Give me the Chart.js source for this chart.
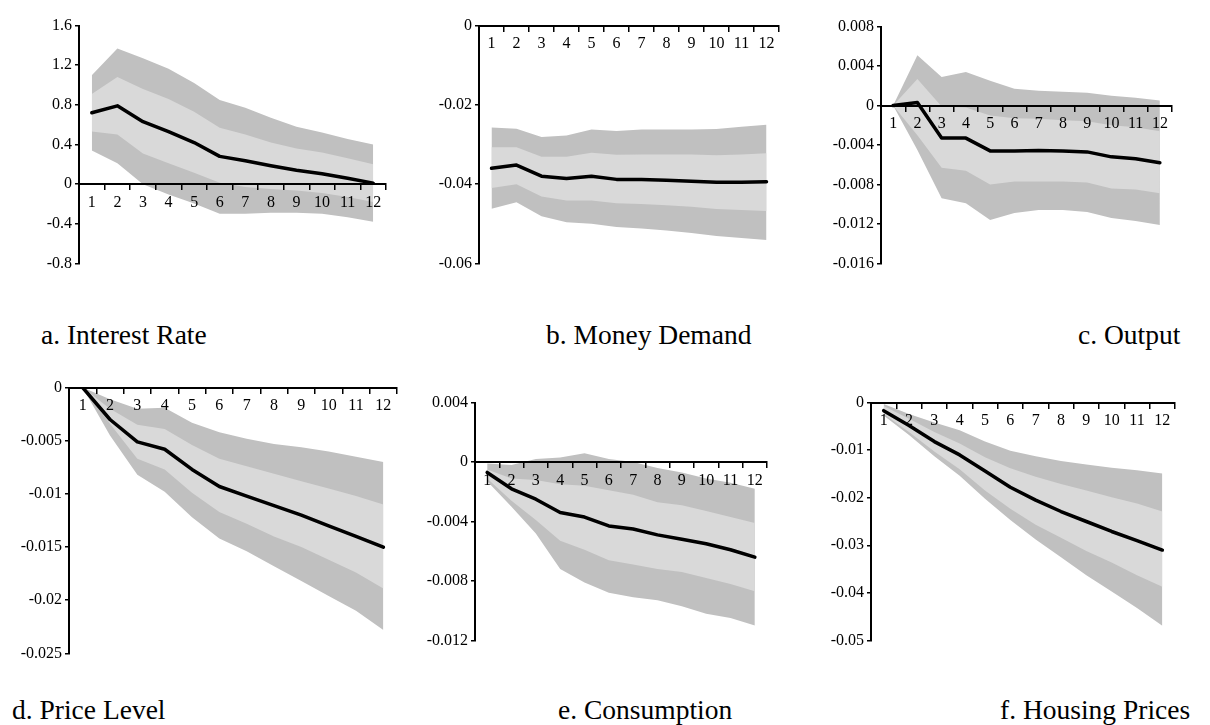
<!DOCTYPE html>
<html>
<head>
<meta charset="utf-8">
<title>Impulse responses</title>
<script src="https://cdn.jsdelivr.net/npm/chart.js@4.4.1/dist/chart.umd.min.js"></script>
<style>
  body {
    margin: 0;
    background: #fff;
    width: 1210px;
    height: 725px;
    position: relative;
    overflow: hidden;
  }
  canvas {
    position: absolute;
  }
  .caption {
    position: absolute;
    font-family: "Liberation Serif", "Times New Roman", serif;
    font-size: 27.5px;
    line-height: 1;
    white-space: nowrap;
    color: #000;
  }
</style>
</head>
<body>
<div class="caption" style="left:41px; top:321px">a. Interest Rate</div>
<div class="caption" style="left:546px; top:321px">b. Money Demand</div>
<div class="caption" style="left:1078px; top:321px">c. Output</div>
<div class="caption" style="left:12px; top:696px">d. Price Level</div>
<div class="caption" style="left:558px; top:696px">e. Consumption</div>
<div class="caption" style="left:1000px; top:696px">f. Housing Prices</div>

<script>
// Horizon (periods after the shock)
const periods = ["1", "2", "3", "4", "5", "6", "7", "8", "9", "10", "11", "12"];

// a. Interest Rate
const rateTicks = [-0.8, -0.4, 0, 0.4, 0.8, 1.2, 1.6];
const rateMean = [0.72, 0.79, 0.63, 0.53, 0.42, 0.28, 0.235, 0.185, 0.14, 0.105, 0.06, 0.01];
const rateUp2 = [1.10, 1.37, 1.27, 1.165, 1.02, 0.85, 0.77, 0.67, 0.58, 0.52, 0.455, 0.40];
const rateUp1 = [0.91, 1.08, 0.96, 0.86, 0.73, 0.57, 0.50, 0.42, 0.36, 0.32, 0.26, 0.20];
const rateLo1 = [0.53, 0.50, 0.31, 0.21, 0.115, 0.015, -0.03, -0.05, -0.065, -0.09, -0.13, -0.18];
const rateLo2 = [0.34, 0.21, 0.0, -0.105, -0.195, -0.30, -0.30, -0.29, -0.29, -0.30, -0.335, -0.38];

// b. Money Demand
const moneyTicks = [-0.06, -0.04, -0.02, 0];
const moneyMean = [-0.0360, -0.0352, -0.0380, -0.0386, -0.0380, -0.0388, -0.0388, -0.0390, -0.0393, -0.0395, -0.0395, -0.0394];
const moneyUp2 = [-0.0257, -0.0260, -0.0281, -0.0277, -0.0262, -0.0266, -0.0262, -0.0262, -0.0262, -0.0261, -0.0255, -0.0250];
const moneyUp1 = [-0.0307, -0.0307, -0.0331, -0.0331, -0.0321, -0.0326, -0.0325, -0.0325, -0.0325, -0.0327, -0.0325, -0.0322];
const moneyLo1 = [-0.0410, -0.0400, -0.0431, -0.0441, -0.0441, -0.0448, -0.0450, -0.0453, -0.0457, -0.0463, -0.0465, -0.0468];
const moneyLo2 = [-0.0462, -0.0446, -0.0481, -0.0496, -0.0500, -0.0508, -0.0512, -0.0517, -0.0523, -0.0531, -0.0536, -0.0541];

// c. Output
const outputTicks = [-0.016, -0.012, -0.008, -0.004, 0, 0.004, 0.008];
const outputMean = [0.0000, 0.0003, -0.0033, -0.0033, -0.0046, -0.0046, -0.00455, -0.0046, -0.0047, -0.0052, -0.0054, -0.0058];
const outputUp2 = [0.0000, 0.0051, 0.0029, 0.0034, 0.0025, 0.0017, 0.0015, 0.0014, 0.0013, 0.0010, 0.0008, 0.0005];
const outputUp1 = [0.0000, 0.0027, -0.0001, -0.0002, -0.0010, -0.0013, -0.00135, -0.0015, -0.0016, -0.0020, -0.0022, -0.0026];
const outputLo1 = [0.0000, -0.0030, -0.0063, -0.0066, -0.0080, -0.0077, -0.0077, -0.0077, -0.0078, -0.0084, -0.0085, -0.0089];
const outputLo2 = [0.0000, -0.0045, -0.0094, -0.0099, -0.0116, -0.0109, -0.0106, -0.0106, -0.0108, -0.0114, -0.0117, -0.0121];

// d. Price Level
const priceTicks = [-0.025, -0.02, -0.015, -0.01, -0.005, 0];
const priceMean = [0, -0.0030, -0.0051, -0.0058, -0.0077, -0.0093, -0.0102, -0.0111, -0.0120, -0.0130, -0.0140, -0.0150];
const priceUp2 = [0, -0.0011, -0.0020, -0.0019, -0.0033, -0.0042, -0.0048, -0.0053, -0.0056, -0.0060, -0.0065, -0.0070];
const priceUp1 = [0, -0.0020, -0.0035, -0.0039, -0.0054, -0.0067, -0.0074, -0.0081, -0.0088, -0.0095, -0.0102, -0.0110];
const priceLo1 = [0, -0.0034, -0.0067, -0.0077, -0.0099, -0.0117, -0.0128, -0.0140, -0.0150, -0.0162, -0.0174, -0.0189];
const priceLo2 = [0, -0.0045, -0.0082, -0.0098, -0.0122, -0.0142, -0.0154, -0.0168, -0.0182, -0.0196, -0.0210, -0.0228];

// e. Consumption
const consTicks = [-0.012, -0.008, -0.004, 0, 0.004];
const consMean = [-0.0007, -0.0018, -0.0025, -0.0034, -0.0037, -0.0043, -0.0045, -0.0049, -0.0052, -0.0055, -0.0059, -0.0064];
const consUp2 = [-0.0001, -0.0002, 0.0002, 0.0003, 0.0006, 0.0002, 0.0000, -0.0004, -0.0007, -0.0011, -0.0014, -0.0018];
const consUp1 = [-0.0005, -0.0011, -0.0012, -0.0015, -0.0016, -0.0019, -0.0022, -0.0027, -0.0029, -0.0033, -0.0037, -0.0041];
const consLo1 = [-0.0011, -0.0026, -0.0039, -0.0053, -0.0059, -0.0066, -0.0069, -0.0072, -0.0074, -0.0078, -0.0082, -0.0087];
const consLo2 = [-0.0013, -0.0030, -0.0048, -0.0072, -0.0081, -0.0088, -0.0091, -0.0093, -0.0097, -0.0102, -0.0105, -0.0110];

// f. Housing Prices
const houseTicks = [-0.05, -0.04, -0.03, -0.02, -0.01, 0];
const houseMean = [-0.0017, -0.0048, -0.0082, -0.0110, -0.0144, -0.0178, -0.0205, -0.0229, -0.0250, -0.0271, -0.0290, -0.0310];
const houseUp2 = [-0.0003, -0.0024, -0.0042, -0.0058, -0.0082, -0.0101, -0.0113, -0.0123, -0.0130, -0.0137, -0.0142, -0.0149];
const houseUp1 = [-0.0007, -0.0034, -0.0062, -0.0086, -0.0115, -0.0138, -0.0156, -0.0171, -0.0185, -0.0199, -0.0212, -0.0229];
const houseLo1 = [-0.0024, -0.0062, -0.0103, -0.0140, -0.0185, -0.0223, -0.0257, -0.0284, -0.0312, -0.0336, -0.0363, -0.0387];
const houseLo2 = [-0.0027, -0.0068, -0.0113, -0.0154, -0.0202, -0.0247, -0.0288, -0.0325, -0.0363, -0.0397, -0.0432, -0.0469];

// Colours
const DARK_BAND = "rgb(192, 192, 192)";
const LIGHT_BAND = "rgb(217, 217, 217)";
const CLEAR = "rgba(0, 0, 0, 0)";

// Plot areas on the page (axis edges, in px)
const AXIS_W = 60;
const PAD = { top: 10, bottom: 10, right: 12 };

Chart.defaults.font.family = '"Liberation Serif", "Times New Roman", serif';
Chart.defaults.font.size = 16;
Chart.defaults.color = "#000";

function edge(data) {
  return {
    data: data,
    borderColor: CLEAR,
    borderWidth: 0,
    pointRadius: 0,
    fill: false,
  };
}

function makePanel(area, ticks, mean, up2, up1, lo1, lo2) {
  const canvas = document.createElement("canvas");
  const w = area.right - area.left + AXIS_W + PAD.right;
  const h = area.bottom - area.top + PAD.top + PAD.bottom;
  canvas.width = w;
  canvas.height = h;
  canvas.style.width = w + "px";
  canvas.style.height = h + "px";
  canvas.style.left = area.left - AXIS_W + "px";
  canvas.style.top = area.top - PAD.top + "px";
  document.body.appendChild(canvas);

  const datasets = [
    {
      data: mean,
      borderColor: "#000",
      borderWidth: 3.5,
      borderJoinStyle: "round",
      borderCapStyle: "round",
      pointRadius: 0,
      fill: false,
      order: 1,
    },
    Object.assign(edge(up1), { fill: "+1", backgroundColor: LIGHT_BAND, order: 2 }),
    Object.assign(edge(lo1), { order: 2 }),
    Object.assign(edge(up2), { fill: "+1", backgroundColor: DARK_BAND, order: 3 }),
    Object.assign(edge(lo2), { order: 3 }),
  ];

  return new Chart(canvas, {
    type: "line",
    data: { labels: periods, datasets: datasets },
    options: {
      responsive: false,
      animation: false,
      events: [],
      layout: { padding: { top: PAD.top, bottom: PAD.bottom, left: 0, right: PAD.right } },
      plugins: {
        legend: { display: false },
        tooltip: { enabled: false },
      },
      scales: {
        x: {
          type: "category",
          offset: true,
          position: { y: 0 },
          grid: {
            offset: true,
            drawOnChartArea: false,
            drawTicks: true,
            tickLength: 5,
            color: "#000",
            lineWidth: 1.5,
            z: 1,
          },
          border: { display: true, color: "#000", width: 2, z: 1 },
          ticks: { padding: 4, maxRotation: 0, autoSkip: false, z: 1 },
        },
        y: {
          min: ticks[0],
          max: ticks[ticks.length - 1],
          afterBuildTicks: (scale) => {
            scale.ticks = ticks.map((v) => ({ value: v }));
          },
          afterFit: (scale) => {
            scale.width = AXIS_W;
          },
          grid: {
            drawOnChartArea: false,
            drawTicks: true,
            tickLength: 4,
            color: "#000",
            lineWidth: 1.5,
          },
          border: { display: true, color: "#000", width: 2 },
          ticks: {
            padding: 3,
            callback: (value) => String(value),
          },
        },
      },
    },
  });
}

makePanel({ left: 79, top: 23, right: 386, bottom: 266 }, rateTicks, rateMean, rateUp2, rateUp1, rateLo1, rateLo2);
makePanel({ left: 479, top: 23, right: 779, bottom: 266 }, moneyTicks, moneyMean, moneyUp2, moneyUp1, moneyLo1, moneyLo2);
makePanel({ left: 881, top: 24, right: 1172, bottom: 266 }, outputTicks, outputMean, outputUp2, outputUp1, outputLo1, outputLo2);
makePanel({ left: 69, top: 385, right: 397, bottom: 656 }, priceTicks, priceMean, priceUp2, priceUp1, priceLo1, priceLo2);
makePanel({ left: 475, top: 400, right: 767, bottom: 643 }, consTicks, consMean, consUp2, consUp1, consLo1, consLo2);
makePanel({ left: 871, top: 400, right: 1175, bottom: 643 }, houseTicks, houseMean, houseUp2, houseUp1, houseLo1, houseLo2);
</script>
</body>
</html>
